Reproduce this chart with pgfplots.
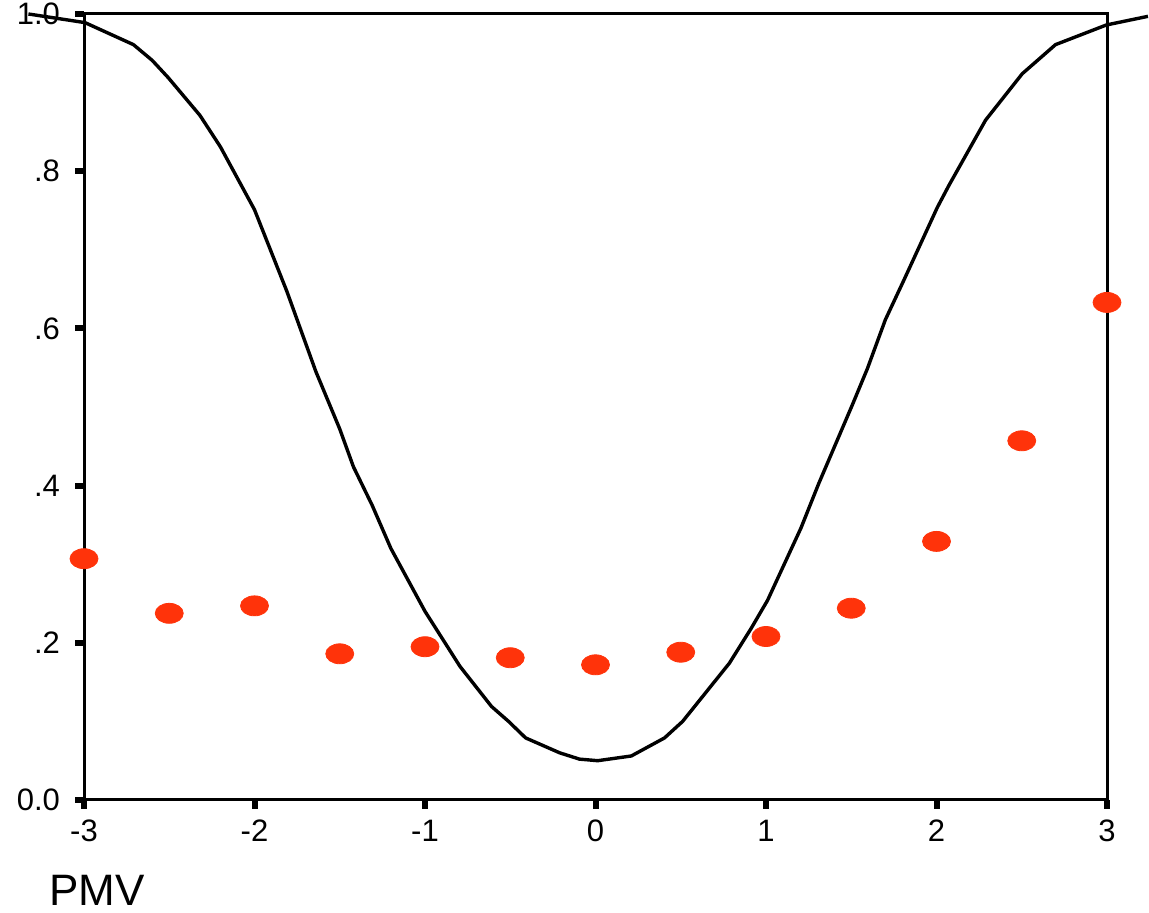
\documentclass[border=0pt]{standalone}
\usepackage{pgfplots}
\pgfplotsset{compat=1.18}
\usepackage{fontspec}
\setmainfont{Liberation Sans}
\definecolor{dotred}{RGB}{255,51,10}
\newcommand{\tl}[1]{\mbox{\fontsize{15.5}{17}\selectfont #1}}
\begin{document}
\begin{tikzpicture}[x=1pt,y=1pt]
\path[use as bounding box] (0,0) rectangle (574.5,456.5);
\begin{axis}[
  scale only axis,
  width=511.5pt, height=393pt,
  at={(42pt,56.5pt)}, anchor=south west,
  xmin=-3, xmax=3, ymin=0, ymax=1,
  clip=false,
  axis line style={line width=1.5pt, black},
  xtick={-3,-2,-1,0,1,2,3},
  xticklabels={\tl{-3},\tl{-2},\tl{-1},\tl{0},\tl{1},\tl{2},\tl{3}},
  ytick={0,0.2,0.4,0.6,0.8,1.0},
  yticklabels={\tl{0.0},\tl{.2},\tl{.4},\tl{.6},\tl{.8},\tl{1.0}},
  tick align=outside,
  xtick pos=bottom, ytick pos=left,
  major tick length=4.5pt,
  every tick/.style={black, line width=3pt},
  xticklabel style={yshift=-2pt},
  yticklabel style={xshift=-4pt},
]
\addplot[black, line width=1.7pt, mark=none] coordinates {
(-3.326,1.000) (-2.994,0.989) (-2.71,0.961) (-2.60,0.941) (-2.506,0.919)
(-2.32,0.871) (-2.20,0.831) (-2.0,0.751) (-1.81,0.647) (-1.64,0.545)
(-1.50,0.472) (-1.42,0.424) (-1.31,0.375) (-1.20,0.320) (-1.0,0.240)
(-0.795,0.170) (-0.61,0.119) (-0.51,0.100) (-0.41,0.079) (-0.21,0.060)
(-0.094,0.052) (0.013,0.050) (0.21,0.056) (0.405,0.079) (0.511,0.100)
(0.785,0.174) (0.912,0.218) (1.009,0.254) (1.205,0.346) (1.31,0.403)
(1.507,0.503) (1.595,0.549) (1.70,0.611) (1.81,0.662) (2.005,0.754)
(2.073,0.782) (2.288,0.865) (2.503,0.924) (2.698,0.961) (2.996,0.986)
(3.24,0.997)
};
\addplot[only marks, mark=*, mark size=5pt, mark options={xscale=1.4, fill=dotred, draw=dotred}] coordinates {
(-3,0.307) (-2.5,0.2375) (-2,0.247) (-1.5,0.186) (-1,0.195) (-0.5,0.181)
(0,0.172) (0.5,0.188) (1,0.208) (1.5,0.244) (2,0.329) (2.5,0.457) (3,0.633)
};
\end{axis}
\node[anchor=base west, inner sep=0pt, font=\fontsize{22}{26}\selectfont] at (24.5,3.5) {PMV};
\end{tikzpicture}
\end{document}
